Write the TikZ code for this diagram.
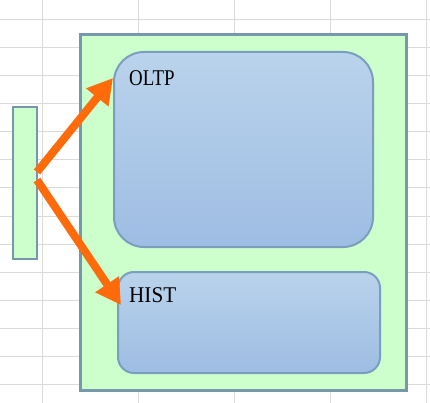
\documentclass[tikz,border=0pt]{standalone}
\usepackage{fontspec}
\setmainfont{Liberation Serif}
\usetikzlibrary{arrows.meta}
\definecolor{gridc}{HTML}{DADADA}
\definecolor{greenf}{HTML}{CCFFCC}
\definecolor{outerb}{HTML}{7598AA}
\definecolor{innerb}{HTML}{7C9EBE}
\definecolor{topb}{HTML}{BAD3EC}
\definecolor{botb}{HTML}{9EBDE3}
\definecolor{arrowc}{HTML}{FF6A0A}
\tikzset{
  greenbox/.style={draw=outerb, fill=greenf, rectangle, inner sep=0pt, outer sep=0pt},
  bluebox/.style={draw=innerb, line width=2pt, rectangle, inner sep=0pt, outer sep=0pt, top color=topb, bottom color=botb},
  label text/.style={inner sep=0pt, anchor=base west, font=\fontsize{22.5}{22.5}\selectfont},
  flow/.style={draw=arrowc, line width=8pt, -{Triangle[length=25pt,width=27pt]}}
}
\begin{document}
\begin{tikzpicture}[x=1pt,y=-1pt]
\useasboundingbox (0,0) rectangle (430,403);
\fill[white] (0,0) rectangle (430,403);
\foreach \x in {42,138,234,330,426} \draw[gridc, line width=1pt] (\x,0) -- (\x,403);
\foreach \y in {20,48,...,384} \draw[gridc, line width=1pt] (0,\y) -- (430,\y);
\node[greenbox, line width=3pt, minimum width=326pt, minimum height=355pt] (outer) at (243,212.5) {};
\node[greenbox, line width=2.5pt, minimum width=24pt, minimum height=152pt] (src) at (25,183) {};
\node[bluebox, rounded corners=30pt, minimum width=259pt, minimum height=195pt] (oltp) at (243.5,149.5) {};
\node[bluebox, rounded corners=16pt, minimum width=262pt, minimum height=101pt] (hist) at (249,322.5) {};
\node[label text] (oltpt) at (129,86) {\scalebox{0.84}[1]{OLTP}};
\node[label text] (histt) at (129,302) {\scalebox{0.94}[1]{HIST}};
\coordinate (s1) at ([yshift=11pt]src.east);
\coordinate (s2) at ([yshift=3pt]src.east);
\coordinate (e1) at ([yshift=-26pt]oltp.north west);
\coordinate (e2) at ([yshift=-33pt]hist.north west);
\draw[flow] (s1) -- ([xshift=-1pt]e1);
\draw[flow] (s2) -- ([xshift=3pt]e2);
\end{tikzpicture}
\end{document}
